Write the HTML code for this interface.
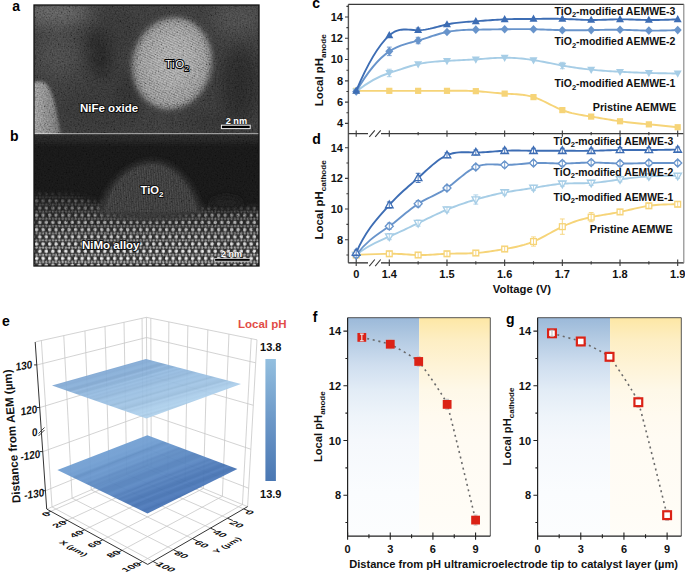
<!DOCTYPE html>
<html><head><meta charset="utf-8"><style>
html,body{margin:0;padding:0;background:#fff;width:685px;height:573px;overflow:hidden}
svg{display:block}
</style></head><body>
<svg width="685" height="573" viewBox="0 0 685 573">
<rect x="348.4" y="4.4" width="335.4" height="258.40000000000003" fill="none" stroke="#888" stroke-width="0.8"/>
<path d="M356.20,90.84 C367.23,90.84 378.27,90.84 389.30,90.84 L391.70,90.84 L394.11,90.84 L396.51,90.84 L398.91,90.84 L401.32,90.84 L403.72,90.84 L406.12,90.83 L408.53,90.83 L410.93,90.83 L413.33,90.84 L415.74,90.84 L418.14,90.84 L420.54,90.85 L422.95,90.85 L425.35,90.86 L427.75,90.86 L430.16,90.87 L432.56,90.87 L434.96,90.87 L437.37,90.87 L439.77,90.87 L442.17,90.87 L444.58,90.86 L446.98,90.84 L449.38,90.82 L451.79,90.80 L454.19,90.79 L456.59,90.77 L459.00,90.76 L461.40,90.77 L463.80,90.78 L466.21,90.81 L468.61,90.87 L471.01,90.94 L473.42,91.04 L475.82,91.16 L478.22,91.32 L480.63,91.50 L483.03,91.70 L485.43,91.91 L487.84,92.14 L490.24,92.37 L492.64,92.61 L495.05,92.84 L497.45,93.06 L499.85,93.26 L502.26,93.45 L504.66,93.61 L507.06,93.74 L509.47,93.86 L511.87,93.98 L514.27,94.10 L516.68,94.25 L519.08,94.44 L521.48,94.68 L523.89,94.99 L526.29,95.37 L528.69,95.84 L531.10,96.42 L533.50,97.12 L535.90,97.94 L538.31,98.88 L540.71,99.91 L543.11,101.01 L545.52,102.17 L547.92,103.35 L550.32,104.56 L552.73,105.76 L555.13,106.93 L557.53,108.06 L559.94,109.12 L562.34,110.10 L564.74,110.98 L567.15,111.77 L569.55,112.47 L571.95,113.10 L574.36,113.66 L576.76,114.17 L579.16,114.63 L581.57,115.06 L583.97,115.45 L586.37,115.84 L588.78,116.21 L591.18,116.59 L593.58,116.98 L595.99,117.38 L598.39,117.78 L600.79,118.19 L603.20,118.60 L605.60,119.01 L608.00,119.41 L610.41,119.81 L612.81,120.19 L615.21,120.57 L617.62,120.93 L620.02,121.27 L622.42,121.60 L624.83,121.90 L627.23,122.19 L629.63,122.46 L632.04,122.72 L634.44,122.97 L636.84,123.21 L639.25,123.45 L641.65,123.68 L644.05,123.91 L646.46,124.13 L648.86,124.36 L651.26,124.59 L653.67,124.82 L656.07,125.05 L658.47,125.29 L660.88,125.53 L663.28,125.77 L665.68,126.01 L668.09,126.25 L670.49,126.50 L672.89,126.74 L675.30,126.99 L677.70,127.23" fill="none" stroke="#f6d478" stroke-width="1.9" stroke-linejoin="round"/>
<rect x="353.10" y="87.74" width="6.20" height="6.20" fill="#f6d478" />
<rect x="386.20" y="87.74" width="6.20" height="6.20" fill="#f6d478" />
<rect x="415.04" y="87.74" width="6.20" height="6.20" fill="#f6d478" />
<rect x="443.88" y="87.74" width="6.20" height="6.20" fill="#f6d478" />
<rect x="472.72" y="88.06" width="6.20" height="6.20" fill="#f6d478" />
<rect x="501.56" y="90.51" width="6.20" height="6.20" fill="#f6d478" />
<rect x="530.40" y="94.02" width="6.20" height="6.20" fill="#f6d478" />
<rect x="559.24" y="107.00" width="6.20" height="6.20" fill="#f6d478" />
<rect x="588.08" y="113.49" width="6.20" height="6.20" fill="#f6d478" />
<rect x="616.92" y="118.17" width="6.20" height="6.20" fill="#f6d478" />
<rect x="645.76" y="121.26" width="6.20" height="6.20" fill="#f6d478" />
<rect x="674.60" y="124.13" width="6.20" height="6.20" fill="#f6d478" />
<path d="M356.20,91.48 C367.23,82.72 378.27,76.36 389.30,72.97 L391.70,72.21 L394.11,71.44 L396.51,70.64 L398.91,69.84 L401.32,69.05 L403.72,68.26 L406.12,67.48 L408.53,66.73 L410.93,66.01 L413.33,65.34 L415.74,64.71 L418.14,64.14 L420.54,63.62 L422.95,63.17 L425.35,62.77 L427.75,62.43 L430.16,62.12 L432.56,61.86 L434.96,61.63 L437.37,61.43 L439.77,61.26 L442.17,61.10 L444.58,60.96 L446.98,60.84 L449.38,60.72 L451.79,60.60 L454.19,60.49 L456.59,60.37 L459.00,60.26 L461.40,60.15 L463.80,60.03 L466.21,59.91 L468.61,59.78 L471.01,59.65 L473.42,59.50 L475.82,59.35 L478.22,59.18 L480.63,59.01 L483.03,58.83 L485.43,58.66 L487.84,58.48 L490.24,58.32 L492.64,58.17 L495.05,58.04 L497.45,57.92 L499.85,57.84 L502.26,57.78 L504.66,57.75 L507.06,57.76 L509.47,57.81 L511.87,57.89 L514.27,58.01 L516.68,58.16 L519.08,58.34 L521.48,58.56 L523.89,58.81 L526.29,59.09 L528.69,59.39 L531.10,59.73 L533.50,60.09 L535.90,60.48 L538.31,60.89 L540.71,61.33 L543.11,61.78 L545.52,62.24 L547.92,62.71 L550.32,63.18 L552.73,63.66 L555.13,64.14 L557.53,64.61 L559.94,65.07 L562.34,65.52 L564.74,65.95 L567.15,66.37 L569.55,66.77 L571.95,67.16 L574.36,67.53 L576.76,67.88 L579.16,68.22 L581.57,68.54 L583.97,68.85 L586.37,69.14 L588.78,69.41 L591.18,69.67 L593.58,69.91 L595.99,70.14 L598.39,70.35 L600.79,70.55 L603.20,70.74 L605.60,70.92 L608.00,71.08 L610.41,71.24 L612.81,71.39 L615.21,71.53 L617.62,71.67 L620.02,71.80 L622.42,71.92 L624.83,72.04 L627.23,72.16 L629.63,72.27 L632.04,72.37 L634.44,72.47 L636.84,72.57 L639.25,72.66 L641.65,72.74 L644.05,72.82 L646.46,72.90 L648.86,72.97 L651.26,73.03 L653.67,73.09 L656.07,73.14 L658.47,73.19 L660.88,73.24 L663.28,73.28 L665.68,73.32 L668.09,73.36 L670.49,73.40 L672.89,73.43 L675.30,73.46 L677.70,73.50" fill="none" stroke="#a6cde6" stroke-width="1.9" stroke-linejoin="round"/>
<path d="M389.30,69.24V76.69M386.90,69.24h4.8M386.90,76.69h4.8" stroke="#a6cde6" stroke-width="0.9" fill="none"/>
<path d="M562.34,62.33V68.71M559.94,62.33h4.8M559.94,68.71h4.8" stroke="#a6cde6" stroke-width="0.9" fill="none"/>
<polygon points="356.20,95.80 360.20,88.60 352.20,88.60" fill="#a6cde6" />
<polygon points="389.30,77.29 393.30,70.09 385.30,70.09" fill="#a6cde6" />
<polygon points="418.14,68.46 422.14,61.26 414.14,61.26" fill="#a6cde6" />
<polygon points="446.98,65.16 450.98,57.96 442.98,57.96" fill="#a6cde6" />
<polygon points="475.82,63.67 479.82,56.47 471.82,56.47" fill="#a6cde6" />
<polygon points="504.66,62.07 508.66,54.87 500.66,54.87" fill="#a6cde6" />
<polygon points="533.50,64.41 537.50,57.21 529.50,57.21" fill="#a6cde6" />
<polygon points="562.34,69.84 566.34,62.64 558.34,62.64" fill="#a6cde6" />
<polygon points="591.18,73.99 595.18,66.79 587.18,66.79" fill="#a6cde6" />
<polygon points="620.02,76.12 624.02,68.92 616.02,68.92" fill="#a6cde6" />
<polygon points="648.86,77.29 652.86,70.09 644.86,70.09" fill="#a6cde6" />
<polygon points="677.70,77.82 681.70,70.62 673.70,70.62" fill="#a6cde6" />
<path d="M356.20,91.48 C367.23,72.49 378.27,58.72 389.30,51.37 L391.70,49.86 L394.11,48.53 L396.51,47.35 L398.91,46.32 L401.32,45.39 L403.72,44.57 L406.12,43.82 L408.53,43.12 L410.93,42.47 L413.33,41.83 L415.74,41.18 L418.14,40.51 L420.54,39.81 L422.95,39.07 L425.35,38.31 L427.75,37.53 L430.16,36.75 L432.56,35.97 L434.96,35.22 L437.37,34.48 L439.77,33.78 L442.17,33.13 L444.58,32.53 L446.98,32.00 L449.38,31.54 L451.79,31.15 L454.19,30.82 L456.59,30.55 L459.00,30.33 L461.40,30.15 L463.80,30.01 L466.21,29.90 L468.61,29.82 L471.01,29.75 L473.42,29.70 L475.82,29.66 L478.22,29.62 L480.63,29.58 L483.03,29.54 L485.43,29.50 L487.84,29.47 L490.24,29.43 L492.64,29.40 L495.05,29.36 L497.45,29.33 L499.85,29.30 L502.26,29.27 L504.66,29.24 L507.06,29.21 L509.47,29.18 L511.87,29.16 L514.27,29.13 L516.68,29.12 L519.08,29.11 L521.48,29.11 L523.89,29.11 L526.29,29.13 L528.69,29.15 L531.10,29.19 L533.50,29.24 L535.90,29.30 L538.31,29.37 L540.71,29.45 L543.11,29.53 L545.52,29.63 L547.92,29.72 L550.32,29.81 L552.73,29.90 L555.13,29.99 L557.53,30.07 L559.94,30.14 L562.34,30.19 L564.74,30.24 L567.15,30.27 L569.55,30.29 L571.95,30.30 L574.36,30.30 L576.76,30.29 L579.16,30.27 L581.57,30.25 L583.97,30.22 L586.37,30.18 L588.78,30.13 L591.18,30.09 L593.58,30.04 L595.99,29.99 L598.39,29.93 L600.79,29.88 L603.20,29.84 L605.60,29.80 L608.00,29.76 L610.41,29.74 L612.81,29.73 L615.21,29.73 L617.62,29.74 L620.02,29.77 L622.42,29.81 L624.83,29.87 L627.23,29.95 L629.63,30.03 L632.04,30.11 L634.44,30.20 L636.84,30.29 L639.25,30.38 L641.65,30.46 L644.05,30.52 L646.46,30.58 L648.86,30.62 L651.26,30.64 L653.67,30.65 L656.07,30.63 L658.47,30.61 L660.88,30.57 L663.28,30.52 L665.68,30.46 L668.09,30.40 L670.49,30.33 L672.89,30.25 L675.30,30.17 L677.70,30.09" fill="none" stroke="#6894cb" stroke-width="1.9" stroke-linejoin="round"/>
<path d="M389.30,47.11V55.62M386.90,47.11h4.8M386.90,55.62h4.8" stroke="#6894cb" stroke-width="0.9" fill="none"/>
<path d="M418.14,37.32V43.71M415.74,37.32h4.8M415.74,43.71h4.8" stroke="#6894cb" stroke-width="0.9" fill="none"/>
<polygon points="356.20,87.18 360.20,91.48 356.20,95.78 352.20,91.48" fill="#6894cb" />
<polygon points="389.30,47.07 393.30,51.37 389.30,55.67 385.30,51.37" fill="#6894cb" />
<polygon points="418.14,36.21 422.14,40.51 418.14,44.81 414.14,40.51" fill="#6894cb" />
<polygon points="446.98,27.70 450.98,32.00 446.98,36.30 442.98,32.00" fill="#6894cb" />
<polygon points="475.82,25.36 479.82,29.66 475.82,33.96 471.82,29.66" fill="#6894cb" />
<polygon points="504.66,24.94 508.66,29.24 504.66,33.54 500.66,29.24" fill="#6894cb" />
<polygon points="533.50,24.94 537.50,29.24 533.50,33.54 529.50,29.24" fill="#6894cb" />
<polygon points="562.34,25.89 566.34,30.19 562.34,34.49 558.34,30.19" fill="#6894cb" />
<polygon points="591.18,25.79 595.18,30.09 591.18,34.39 587.18,30.09" fill="#6894cb" />
<polygon points="620.02,25.47 624.02,29.77 620.02,34.07 616.02,29.77" fill="#6894cb" />
<polygon points="648.86,26.32 652.86,30.62 648.86,34.92 644.86,30.62" fill="#6894cb" />
<polygon points="677.70,25.79 681.70,30.09 677.70,34.39 673.70,30.09" fill="#6894cb" />
<path d="M356.20,90.84 C367.23,64.60 378.27,45.57 389.30,35.41 L391.70,33.44 L394.11,31.95 L396.51,30.86 L398.91,30.12 L401.32,29.68 L403.72,29.48 L406.12,29.47 L408.53,29.58 L410.93,29.77 L413.33,29.97 L415.74,30.13 L418.14,30.19 L420.54,30.12 L422.95,29.91 L425.35,29.58 L427.75,29.16 L430.16,28.66 L432.56,28.09 L434.96,27.49 L437.37,26.85 L439.77,26.22 L442.17,25.59 L444.58,25.00 L446.98,24.45 L449.38,23.96 L451.79,23.54 L454.19,23.17 L456.59,22.85 L459.00,22.57 L461.40,22.32 L463.80,22.11 L466.21,21.92 L468.61,21.74 L471.01,21.58 L473.42,21.42 L475.82,21.26 L478.22,21.09 L480.63,20.91 L483.03,20.74 L485.43,20.56 L487.84,20.38 L490.24,20.20 L492.64,20.03 L495.05,19.87 L497.45,19.72 L499.85,19.58 L502.26,19.45 L504.66,19.34 L507.06,19.25 L509.47,19.17 L511.87,19.12 L514.27,19.07 L516.68,19.03 L519.08,19.01 L521.48,18.98 L523.89,18.97 L526.29,18.96 L528.69,18.94 L531.10,18.93 L533.50,18.92 L535.90,18.89 L538.31,18.87 L540.71,18.85 L543.11,18.82 L545.52,18.80 L547.92,18.79 L550.32,18.78 L552.73,18.78 L555.13,18.79 L557.53,18.82 L559.94,18.86 L562.34,18.92 L564.74,18.99 L567.15,19.09 L569.55,19.19 L571.95,19.30 L574.36,19.42 L576.76,19.53 L579.16,19.64 L581.57,19.74 L583.97,19.83 L586.37,19.90 L588.78,19.95 L591.18,19.98 L593.58,19.98 L595.99,19.95 L598.39,19.90 L600.79,19.84 L603.20,19.77 L605.60,19.69 L608.00,19.61 L610.41,19.53 L612.81,19.46 L615.21,19.40 L617.62,19.36 L620.02,19.34 L622.42,19.34 L624.83,19.37 L627.23,19.41 L629.63,19.47 L632.04,19.53 L634.44,19.61 L636.84,19.68 L639.25,19.76 L641.65,19.83 L644.05,19.89 L646.46,19.94 L648.86,19.98 L651.26,20.00 L653.67,19.99 L656.07,19.97 L658.47,19.94 L660.88,19.89 L663.28,19.84 L665.68,19.77 L668.09,19.69 L670.49,19.61 L672.89,19.52 L675.30,19.43 L677.70,19.34" fill="none" stroke="#3d6db4" stroke-width="1.9" stroke-linejoin="round"/>
<path d="M418.14,28.07V32.32M415.74,28.07h4.8M415.74,32.32h4.8" stroke="#3d6db4" stroke-width="0.9" fill="none"/>
<polygon points="356.20,86.52 360.20,93.72 352.20,93.72" fill="#3d6db4" />
<polygon points="389.30,31.09 393.30,38.29 385.30,38.29" fill="#3d6db4" />
<polygon points="418.14,25.87 422.14,33.07 414.14,33.07" fill="#3d6db4" />
<polygon points="446.98,20.13 450.98,27.33 442.98,27.33" fill="#3d6db4" />
<polygon points="475.82,16.94 479.82,24.14 471.82,24.14" fill="#3d6db4" />
<polygon points="504.66,15.02 508.66,22.22 500.66,22.22" fill="#3d6db4" />
<polygon points="533.50,14.60 537.50,21.80 529.50,21.80" fill="#3d6db4" />
<polygon points="562.34,14.60 566.34,21.80 558.34,21.80" fill="#3d6db4" />
<polygon points="591.18,15.66 595.18,22.86 587.18,22.86" fill="#3d6db4" />
<polygon points="620.02,15.02 624.02,22.22 616.02,22.22" fill="#3d6db4" />
<polygon points="648.86,15.66 652.86,22.86 644.86,22.86" fill="#3d6db4" />
<polygon points="677.70,15.02 681.70,22.22 673.70,22.22" fill="#3d6db4" />
<path d="M356.20,255.01 C367.23,254.38 378.27,254.11 389.30,253.78 L391.70,253.74 L394.11,253.76 L396.51,253.83 L398.91,253.94 L401.32,254.07 L403.72,254.23 L406.12,254.39 L408.53,254.56 L410.93,254.71 L413.33,254.84 L415.74,254.95 L418.14,255.01 L420.54,255.03 L422.95,255.00 L425.35,254.94 L427.75,254.85 L430.16,254.73 L432.56,254.60 L434.96,254.45 L437.37,254.30 L439.77,254.16 L442.17,254.01 L444.58,253.89 L446.98,253.78 L449.38,253.70 L451.79,253.64 L454.19,253.60 L456.59,253.57 L459.00,253.54 L461.40,253.51 L463.80,253.48 L466.21,253.43 L468.61,253.37 L471.01,253.28 L473.42,253.17 L475.82,253.02 L478.22,252.83 L480.63,252.61 L483.03,252.35 L485.43,252.06 L487.84,251.75 L490.24,251.41 L492.64,251.05 L495.05,250.67 L497.45,250.28 L499.85,249.87 L502.26,249.45 L504.66,249.03 L507.06,248.60 L509.47,248.16 L511.87,247.71 L514.27,247.22 L516.68,246.71 L519.08,246.15 L521.48,245.54 L523.89,244.88 L526.29,244.15 L528.69,243.36 L531.10,242.48 L533.50,241.52 L535.90,240.47 L538.31,239.34 L540.71,238.14 L543.11,236.89 L545.52,235.60 L547.92,234.29 L550.32,232.97 L552.73,231.64 L555.13,230.34 L557.53,229.06 L559.94,227.83 L562.34,226.65 L564.74,225.54 L567.15,224.50 L569.55,223.52 L571.95,222.60 L574.36,221.75 L576.76,220.95 L579.16,220.20 L581.57,219.50 L583.97,218.85 L586.37,218.24 L588.78,217.67 L591.18,217.14 L593.58,216.65 L595.99,216.19 L598.39,215.75 L600.79,215.32 L603.20,214.92 L605.60,214.51 L608.00,214.11 L610.41,213.71 L612.81,213.29 L615.21,212.86 L617.62,212.41 L620.02,211.93 L622.42,211.42 L624.83,210.89 L627.23,210.34 L629.63,209.78 L632.04,209.21 L634.44,208.65 L636.84,208.11 L639.25,207.58 L641.65,207.07 L644.05,206.61 L646.46,206.18 L648.86,205.80 L651.26,205.48 L653.67,205.20 L656.07,204.98 L658.47,204.79 L660.88,204.64 L663.28,204.53 L665.68,204.44 L668.09,204.38 L670.49,204.34 L672.89,204.31 L675.30,204.28 L677.70,204.27" fill="none" stroke="#f6d478" stroke-width="1.9" stroke-linejoin="round"/>
<rect x="353.30" y="252.11" width="5.80" height="5.80" fill="white" stroke="#f6d478" stroke-width="1.3"/>
<rect x="386.40" y="250.88" width="5.80" height="5.80" fill="white" stroke="#f6d478" stroke-width="1.3"/>
<rect x="415.24" y="252.11" width="5.80" height="5.80" fill="white" stroke="#f6d478" stroke-width="1.3"/>
<rect x="444.08" y="250.88" width="5.80" height="5.80" fill="white" stroke="#f6d478" stroke-width="1.3"/>
<rect x="472.92" y="250.12" width="5.80" height="5.80" fill="white" stroke="#f6d478" stroke-width="1.3"/>
<rect x="501.76" y="246.13" width="5.80" height="5.80" fill="white" stroke="#f6d478" stroke-width="1.3"/>
<rect x="530.60" y="238.62" width="5.80" height="5.80" fill="white" stroke="#f6d478" stroke-width="1.3"/>
<rect x="559.44" y="223.75" width="5.80" height="5.80" fill="white" stroke="#f6d478" stroke-width="1.3"/>
<rect x="588.28" y="214.24" width="5.80" height="5.80" fill="white" stroke="#f6d478" stroke-width="1.3"/>
<rect x="617.12" y="209.03" width="5.80" height="5.80" fill="white" stroke="#f6d478" stroke-width="1.3"/>
<rect x="645.96" y="202.90" width="5.80" height="5.80" fill="white" stroke="#f6d478" stroke-width="1.3"/>
<rect x="674.80" y="201.37" width="5.80" height="5.80" fill="white" stroke="#f6d478" stroke-width="1.3"/>
<path d="M356.20,252.56V257.46M353.80,252.56h4.8M353.80,257.46h4.8" stroke="#f6d478" stroke-width="0.9" fill="none"/>
<path d="M389.30,251.33V256.24M386.90,251.33h4.8M386.90,256.24h4.8" stroke="#f6d478" stroke-width="0.9" fill="none"/>
<path d="M418.14,252.56V257.46M415.74,252.56h4.8M415.74,257.46h4.8" stroke="#f6d478" stroke-width="0.9" fill="none"/>
<path d="M446.98,251.33V256.24M444.58,251.33h4.8M444.58,256.24h4.8" stroke="#f6d478" stroke-width="0.9" fill="none"/>
<path d="M475.82,250.56V255.47M473.42,250.56h4.8M473.42,255.47h4.8" stroke="#f6d478" stroke-width="0.9" fill="none"/>
<path d="M504.66,246.58V251.48M502.26,246.58h4.8M502.26,251.48h4.8" stroke="#f6d478" stroke-width="0.9" fill="none"/>
<path d="M533.50,236.92V246.12M531.10,236.92h4.8M531.10,246.12h4.8" stroke="#f6d478" stroke-width="0.9" fill="none"/>
<path d="M562.34,218.98V234.31M559.94,218.98h4.8M559.94,234.31h4.8" stroke="#f6d478" stroke-width="0.9" fill="none"/>
<path d="M591.18,212.55V221.74M588.78,212.55h4.8M588.78,221.74h4.8" stroke="#f6d478" stroke-width="0.9" fill="none"/>
<path d="M620.02,209.48V214.39M617.62,209.48h4.8M617.62,214.39h4.8" stroke="#f6d478" stroke-width="0.9" fill="none"/>
<path d="M648.86,203.35V208.25M646.46,203.35h4.8M646.46,208.25h4.8" stroke="#f6d478" stroke-width="0.9" fill="none"/>
<path d="M677.70,201.81V206.72M675.30,201.81h4.8M675.30,206.72h4.8" stroke="#f6d478" stroke-width="0.9" fill="none"/>
<path d="M356.20,255.01 C367.23,245.51 378.27,241.52 389.30,236.61 L391.70,235.54 L394.11,234.45 L396.51,233.36 L398.91,232.25 L401.32,231.14 L403.72,230.02 L406.12,228.89 L408.53,227.75 L410.93,226.60 L413.33,225.45 L415.74,224.29 L418.14,223.12 L420.54,221.95 L422.95,220.78 L425.35,219.61 L427.75,218.45 L430.16,217.29 L432.56,216.14 L434.96,215.00 L437.37,213.88 L439.77,212.78 L442.17,211.71 L444.58,210.66 L446.98,209.63 L449.38,208.64 L451.79,207.68 L454.19,206.75 L456.59,205.85 L459.00,204.97 L461.40,204.13 L463.80,203.30 L466.21,202.50 L468.61,201.72 L471.01,200.97 L473.42,200.23 L475.82,199.52 L478.22,198.82 L480.63,198.14 L483.03,197.47 L485.43,196.83 L487.84,196.21 L490.24,195.61 L492.64,195.03 L495.05,194.47 L497.45,193.93 L499.85,193.42 L502.26,192.93 L504.66,192.46 L507.06,192.02 L509.47,191.60 L511.87,191.20 L514.27,190.81 L516.68,190.43 L519.08,190.07 L521.48,189.70 L523.89,189.34 L526.29,188.98 L528.69,188.62 L531.10,188.25 L533.50,187.86 L535.90,187.47 L538.31,187.07 L540.71,186.66 L543.11,186.26 L545.52,185.86 L547.92,185.47 L550.32,185.11 L552.73,184.76 L555.13,184.45 L557.53,184.17 L559.94,183.92 L562.34,183.73 L564.74,183.57 L567.15,183.46 L569.55,183.39 L571.95,183.34 L574.36,183.31 L576.76,183.29 L579.16,183.27 L581.57,183.25 L583.97,183.21 L586.37,183.16 L588.78,183.08 L591.18,182.96 L593.58,182.80 L595.99,182.60 L598.39,182.37 L600.79,182.10 L603.20,181.81 L605.60,181.50 L608.00,181.17 L610.41,180.83 L612.81,180.48 L615.21,180.13 L617.62,179.78 L620.02,179.43 L622.42,179.10 L624.83,178.77 L627.23,178.45 L629.63,178.15 L632.04,177.86 L634.44,177.59 L636.84,177.34 L639.25,177.10 L641.65,176.89 L644.05,176.69 L646.46,176.52 L648.86,176.37 L651.26,176.24 L653.67,176.14 L656.07,176.06 L658.47,175.99 L660.88,175.95 L663.28,175.91 L665.68,175.89 L668.09,175.88 L670.49,175.88 L672.89,175.89 L675.30,175.90 L677.70,175.91" fill="none" stroke="#a6cde6" stroke-width="1.9" stroke-linejoin="round"/>
<polygon points="356.20,259.09 360.00,252.29 352.40,252.29" fill="white" stroke="#a6cde6" stroke-width="1.3"/>
<polygon points="389.30,240.69 393.10,233.89 385.50,233.89" fill="white" stroke="#a6cde6" stroke-width="1.3"/>
<polygon points="418.14,227.20 421.94,220.40 414.34,220.40" fill="white" stroke="#a6cde6" stroke-width="1.3"/>
<polygon points="446.98,213.71 450.78,206.91 443.18,206.91" fill="white" stroke="#a6cde6" stroke-width="1.3"/>
<polygon points="475.82,203.60 479.62,196.80 472.02,196.80" fill="white" stroke="#a6cde6" stroke-width="1.3"/>
<polygon points="504.66,196.54 508.46,189.74 500.86,189.74" fill="white" stroke="#a6cde6" stroke-width="1.3"/>
<polygon points="533.50,191.94 537.30,185.14 529.70,185.14" fill="white" stroke="#a6cde6" stroke-width="1.3"/>
<polygon points="562.34,187.81 566.14,181.01 558.54,181.01" fill="white" stroke="#a6cde6" stroke-width="1.3"/>
<polygon points="591.18,187.04 594.98,180.24 587.38,180.24" fill="white" stroke="#a6cde6" stroke-width="1.3"/>
<polygon points="620.02,183.51 623.82,176.71 616.22,176.71" fill="white" stroke="#a6cde6" stroke-width="1.3"/>
<polygon points="648.86,180.45 652.66,173.65 645.06,173.65" fill="white" stroke="#a6cde6" stroke-width="1.3"/>
<polygon points="677.70,179.99 681.50,173.19 673.90,173.19" fill="white" stroke="#a6cde6" stroke-width="1.3"/>
<path d="M356.20,252.56V257.46M353.80,252.56h4.8M353.80,257.46h4.8" stroke="#a6cde6" stroke-width="0.9" fill="none"/>
<path d="M389.30,233.55V239.68M386.90,233.55h4.8M386.90,239.68h4.8" stroke="#a6cde6" stroke-width="0.9" fill="none"/>
<path d="M418.14,220.06V226.19M415.74,220.06h4.8M415.74,226.19h4.8" stroke="#a6cde6" stroke-width="0.9" fill="none"/>
<path d="M446.98,207.18V212.09M444.58,207.18h4.8M444.58,212.09h4.8" stroke="#a6cde6" stroke-width="0.9" fill="none"/>
<path d="M475.82,194.92V204.11M473.42,194.92h4.8M473.42,204.11h4.8" stroke="#a6cde6" stroke-width="0.9" fill="none"/>
<path d="M504.66,190.01V194.92M502.26,190.01h4.8M502.26,194.92h4.8" stroke="#a6cde6" stroke-width="0.9" fill="none"/>
<path d="M533.50,185.41V190.32M531.10,185.41h4.8M531.10,190.32h4.8" stroke="#a6cde6" stroke-width="0.9" fill="none"/>
<path d="M562.34,181.27V186.18M559.94,181.27h4.8M559.94,186.18h4.8" stroke="#a6cde6" stroke-width="0.9" fill="none"/>
<path d="M591.18,180.51V185.41M588.78,180.51h4.8M588.78,185.41h4.8" stroke="#a6cde6" stroke-width="0.9" fill="none"/>
<path d="M620.02,176.98V181.89M617.62,176.98h4.8M617.62,181.89h4.8" stroke="#a6cde6" stroke-width="0.9" fill="none"/>
<path d="M648.86,173.91V178.82M646.46,173.91h4.8M646.46,178.82h4.8" stroke="#a6cde6" stroke-width="0.9" fill="none"/>
<path d="M677.70,173.45V178.36M675.30,173.45h4.8M675.30,178.36h4.8" stroke="#a6cde6" stroke-width="0.9" fill="none"/>
<path d="M356.20,255.01 C367.23,240.12 378.27,233.88 389.30,226.19 L391.70,224.46 L394.11,222.64 L396.51,220.74 L398.91,218.79 L401.32,216.81 L403.72,214.82 L406.12,212.84 L408.53,210.89 L410.93,208.99 L413.33,207.16 L415.74,205.43 L418.14,203.81 L420.54,202.32 L422.95,200.94 L425.35,199.65 L427.75,198.42 L430.16,197.23 L432.56,196.06 L434.96,194.88 L437.37,193.66 L439.77,192.40 L442.17,191.05 L444.58,189.60 L446.98,188.02 L449.38,186.30 L451.79,184.46 L454.19,182.54 L456.59,180.57 L459.00,178.58 L461.40,176.61 L463.80,174.69 L466.21,172.85 L468.61,171.13 L471.01,169.56 L473.42,168.18 L475.82,167.02 L478.22,166.09 L480.63,165.40 L483.03,164.90 L485.43,164.57 L487.84,164.39 L490.24,164.33 L492.64,164.35 L495.05,164.44 L497.45,164.56 L499.85,164.69 L502.26,164.80 L504.66,164.87 L507.06,164.87 L509.47,164.81 L511.87,164.69 L514.27,164.54 L516.68,164.35 L519.08,164.14 L521.48,163.93 L523.89,163.71 L526.29,163.50 L528.69,163.31 L531.10,163.15 L533.50,163.03 L535.90,162.96 L538.31,162.93 L540.71,162.94 L543.11,162.98 L545.52,163.05 L547.92,163.12 L550.32,163.21 L552.73,163.29 L555.13,163.37 L557.53,163.43 L559.94,163.48 L562.34,163.49 L564.74,163.47 L567.15,163.42 L569.55,163.35 L571.95,163.26 L574.36,163.15 L576.76,163.04 L579.16,162.93 L581.57,162.82 L583.97,162.73 L586.37,162.65 L588.78,162.60 L591.18,162.57 L593.58,162.58 L595.99,162.61 L598.39,162.67 L600.79,162.75 L603.20,162.85 L605.60,162.95 L608.00,163.06 L610.41,163.17 L612.81,163.27 L615.21,163.36 L617.62,163.44 L620.02,163.49 L622.42,163.52 L624.83,163.53 L627.23,163.52 L629.63,163.49 L632.04,163.44 L634.44,163.39 L636.84,163.33 L639.25,163.27 L641.65,163.20 L644.05,163.14 L646.46,163.08 L648.86,163.03 L651.26,162.99 L653.67,162.96 L656.07,162.94 L658.47,162.93 L660.88,162.93 L663.28,162.93 L665.68,162.94 L668.09,162.95 L670.49,162.97 L672.89,162.99 L675.30,163.01 L677.70,163.03" fill="none" stroke="#6894cb" stroke-width="1.9" stroke-linejoin="round"/>
<polygon points="356.20,251.01 360.20,255.01 356.20,259.01 352.20,255.01" fill="white" stroke="#6894cb" stroke-width="1.3"/>
<polygon points="389.30,222.19 393.30,226.19 389.30,230.19 385.30,226.19" fill="white" stroke="#6894cb" stroke-width="1.3"/>
<polygon points="418.14,199.81 422.14,203.81 418.14,207.81 414.14,203.81" fill="white" stroke="#6894cb" stroke-width="1.3"/>
<polygon points="446.98,184.02 450.98,188.02 446.98,192.02 442.98,188.02" fill="white" stroke="#6894cb" stroke-width="1.3"/>
<polygon points="475.82,163.02 479.82,167.02 475.82,171.02 471.82,167.02" fill="white" stroke="#6894cb" stroke-width="1.3"/>
<polygon points="504.66,160.87 508.66,164.87 504.66,168.87 500.66,164.87" fill="white" stroke="#6894cb" stroke-width="1.3"/>
<polygon points="533.50,159.03 537.50,163.03 533.50,167.03 529.50,163.03" fill="white" stroke="#6894cb" stroke-width="1.3"/>
<polygon points="562.34,159.49 566.34,163.49 562.34,167.49 558.34,163.49" fill="white" stroke="#6894cb" stroke-width="1.3"/>
<polygon points="591.18,158.57 595.18,162.57 591.18,166.57 587.18,162.57" fill="white" stroke="#6894cb" stroke-width="1.3"/>
<polygon points="620.02,159.49 624.02,163.49 620.02,167.49 616.02,163.49" fill="white" stroke="#6894cb" stroke-width="1.3"/>
<polygon points="648.86,159.03 652.86,163.03 648.86,167.03 644.86,163.03" fill="white" stroke="#6894cb" stroke-width="1.3"/>
<polygon points="677.70,159.03 681.70,163.03 677.70,167.03 673.70,163.03" fill="white" stroke="#6894cb" stroke-width="1.3"/>
<path d="M356.20,252.56V257.46M353.80,252.56h4.8M353.80,257.46h4.8" stroke="#6894cb" stroke-width="0.9" fill="none"/>
<path d="M389.30,223.12V229.26M386.90,223.12h4.8M386.90,229.26h4.8" stroke="#6894cb" stroke-width="0.9" fill="none"/>
<path d="M418.14,200.74V206.87M415.74,200.74h4.8M415.74,206.87h4.8" stroke="#6894cb" stroke-width="0.9" fill="none"/>
<path d="M446.98,185.57V190.47M444.58,185.57h4.8M444.58,190.47h4.8" stroke="#6894cb" stroke-width="0.9" fill="none"/>
<path d="M475.82,164.56V169.47M473.42,164.56h4.8M473.42,169.47h4.8" stroke="#6894cb" stroke-width="0.9" fill="none"/>
<path d="M504.66,162.42V167.32M502.26,162.42h4.8M502.26,167.32h4.8" stroke="#6894cb" stroke-width="0.9" fill="none"/>
<path d="M533.50,160.58V165.48M531.10,160.58h4.8M531.10,165.48h4.8" stroke="#6894cb" stroke-width="0.9" fill="none"/>
<path d="M562.34,161.04V165.94M559.94,161.04h4.8M559.94,165.94h4.8" stroke="#6894cb" stroke-width="0.9" fill="none"/>
<path d="M591.18,160.12V165.02M588.78,160.12h4.8M588.78,165.02h4.8" stroke="#6894cb" stroke-width="0.9" fill="none"/>
<path d="M620.02,161.04V165.94M617.62,161.04h4.8M617.62,165.94h4.8" stroke="#6894cb" stroke-width="0.9" fill="none"/>
<path d="M648.86,160.58V165.48M646.46,160.58h4.8M646.46,165.48h4.8" stroke="#6894cb" stroke-width="0.9" fill="none"/>
<path d="M677.70,160.58V165.48M675.30,160.58h4.8M675.30,165.48h4.8" stroke="#6894cb" stroke-width="0.9" fill="none"/>
<path d="M356.20,252.56 C367.23,228.00 378.27,217.71 389.30,205.03 L391.70,202.35 L394.11,199.79 L396.51,197.35 L398.91,195.01 L401.32,192.76 L403.72,190.57 L406.12,188.43 L408.53,186.32 L410.93,184.23 L413.33,182.14 L415.74,180.04 L418.14,177.90 L420.54,175.72 L422.95,173.51 L425.35,171.30 L427.75,169.11 L430.16,166.97 L432.56,164.90 L434.96,162.91 L437.37,161.05 L439.77,159.32 L442.17,157.76 L444.58,156.38 L446.98,155.21 L449.38,154.27 L451.79,153.54 L454.19,152.99 L456.59,152.61 L459.00,152.36 L461.40,152.23 L463.80,152.18 L466.21,152.20 L468.61,152.27 L471.01,152.34 L473.42,152.41 L475.82,152.45 L478.22,152.44 L480.63,152.38 L483.03,152.28 L485.43,152.14 L487.84,151.98 L490.24,151.81 L492.64,151.62 L495.05,151.42 L497.45,151.23 L499.85,151.06 L502.26,150.90 L504.66,150.77 L507.06,150.67 L509.47,150.60 L511.87,150.55 L514.27,150.53 L516.68,150.53 L519.08,150.55 L521.48,150.58 L523.89,150.61 L526.29,150.65 L528.69,150.69 L531.10,150.73 L533.50,150.77 L535.90,150.79 L538.31,150.80 L540.71,150.81 L543.11,150.81 L545.52,150.81 L547.92,150.80 L550.32,150.80 L552.73,150.79 L555.13,150.78 L557.53,150.77 L559.94,150.77 L562.34,150.77 L564.74,150.77 L567.15,150.78 L569.55,150.79 L571.95,150.81 L574.36,150.82 L576.76,150.83 L579.16,150.84 L581.57,150.84 L583.97,150.83 L586.37,150.82 L588.78,150.80 L591.18,150.77 L593.58,150.72 L595.99,150.66 L598.39,150.60 L600.79,150.53 L603.20,150.45 L605.60,150.38 L608.00,150.30 L610.41,150.23 L612.81,150.16 L615.21,150.10 L617.62,150.04 L620.02,150.00 L622.42,149.97 L624.83,149.95 L627.23,149.94 L629.63,149.94 L632.04,149.94 L634.44,149.95 L636.84,149.97 L639.25,149.98 L641.65,149.99 L644.05,150.00 L646.46,150.00 L648.86,150.00 L651.26,149.99 L653.67,149.97 L656.07,149.95 L658.47,149.92 L660.88,149.88 L663.28,149.84 L665.68,149.80 L668.09,149.75 L670.49,149.70 L672.89,149.65 L675.30,149.59 L677.70,149.54" fill="none" stroke="#3d6db4" stroke-width="1.9" stroke-linejoin="round"/>
<polygon points="356.20,248.48 360.00,255.28 352.40,255.28" fill="white" stroke="#3d6db4" stroke-width="1.3"/>
<polygon points="389.30,200.95 393.10,207.75 385.50,207.75" fill="white" stroke="#3d6db4" stroke-width="1.3"/>
<polygon points="418.14,173.82 421.94,180.62 414.34,180.62" fill="white" stroke="#3d6db4" stroke-width="1.3"/>
<polygon points="446.98,151.13 450.78,157.93 443.18,157.93" fill="white" stroke="#3d6db4" stroke-width="1.3"/>
<polygon points="475.82,148.37 479.62,155.17 472.02,155.17" fill="white" stroke="#3d6db4" stroke-width="1.3"/>
<polygon points="504.66,146.69 508.46,153.49 500.86,153.49" fill="white" stroke="#3d6db4" stroke-width="1.3"/>
<polygon points="533.50,146.69 537.30,153.49 529.70,153.49" fill="white" stroke="#3d6db4" stroke-width="1.3"/>
<polygon points="562.34,146.69 566.14,153.49 558.54,153.49" fill="white" stroke="#3d6db4" stroke-width="1.3"/>
<polygon points="591.18,146.69 594.98,153.49 587.38,153.49" fill="white" stroke="#3d6db4" stroke-width="1.3"/>
<polygon points="620.02,145.92 623.82,152.72 616.22,152.72" fill="white" stroke="#3d6db4" stroke-width="1.3"/>
<polygon points="648.86,145.92 652.66,152.72 645.06,152.72" fill="white" stroke="#3d6db4" stroke-width="1.3"/>
<polygon points="677.70,145.46 681.50,152.26 673.90,152.26" fill="white" stroke="#3d6db4" stroke-width="1.3"/>
<path d="M356.20,250.10V255.01M353.80,250.10h4.8M353.80,255.01h4.8" stroke="#3d6db4" stroke-width="0.9" fill="none"/>
<path d="M389.30,201.97V208.10M386.90,201.97h4.8M386.90,208.10h4.8" stroke="#3d6db4" stroke-width="0.9" fill="none"/>
<path d="M418.14,173.30V182.50M415.74,173.30h4.8M415.74,182.50h4.8" stroke="#3d6db4" stroke-width="0.9" fill="none"/>
<path d="M446.98,152.76V157.66M444.58,152.76h4.8M444.58,157.66h4.8" stroke="#3d6db4" stroke-width="0.9" fill="none"/>
<path d="M475.82,150.00V154.91M473.42,150.00h4.8M473.42,154.91h4.8" stroke="#3d6db4" stroke-width="0.9" fill="none"/>
<path d="M504.66,148.31V153.22M502.26,148.31h4.8M502.26,153.22h4.8" stroke="#3d6db4" stroke-width="0.9" fill="none"/>
<path d="M533.50,148.31V153.22M531.10,148.31h4.8M531.10,153.22h4.8" stroke="#3d6db4" stroke-width="0.9" fill="none"/>
<path d="M562.34,148.31V153.22M559.94,148.31h4.8M559.94,153.22h4.8" stroke="#3d6db4" stroke-width="0.9" fill="none"/>
<path d="M591.18,148.31V153.22M588.78,148.31h4.8M588.78,153.22h4.8" stroke="#3d6db4" stroke-width="0.9" fill="none"/>
<path d="M620.02,147.55V152.45M617.62,147.55h4.8M617.62,152.45h4.8" stroke="#3d6db4" stroke-width="0.9" fill="none"/>
<path d="M648.86,147.55V152.45M646.46,147.55h4.8M646.46,152.45h4.8" stroke="#3d6db4" stroke-width="0.9" fill="none"/>
<path d="M677.70,147.09V151.99M675.30,147.09h4.8M675.30,151.99h4.8" stroke="#3d6db4" stroke-width="0.9" fill="none"/>
<path d="M348.4,4.4H683.8" stroke="#3a3a3a" stroke-width="1.1"/>
<path d="M348.4,4.4V262.8" stroke="#555" stroke-width="1.4"/>
<path d="M348.4,133.6H683.8" stroke="#3a3a3a" stroke-width="1.2"/>
<path d="M348.4,262.8H683.8" stroke="#3a3a3a" stroke-width="1.2"/>
<path d="M683.8,4.4V262.8" stroke="#999" stroke-width="0.9"/>
<path d="M345.00,123.40H348.4 M346.40,112.76H348.4 M345.00,102.12H348.4 M346.40,91.48H348.4 M345.00,80.84H348.4 M346.40,70.20H348.4 M345.00,59.56H348.4 M346.40,48.92H348.4 M345.00,38.28H348.4 M346.40,27.64H348.4 M345.00,17.00H348.4 M346.40,6.36H348.4 M346.40,255.01H348.4 M345.00,239.68H348.4 M346.40,224.35H348.4 M345.00,209.02H348.4 M346.40,193.69H348.4 M345.00,178.36H348.4 M346.40,163.03H348.4 M345.00,147.70H348.4 M356.20,130.40V136.80 M356.20,259.60V266.00 M389.30,130.40V136.80 M389.30,259.60V266.00 M418.14,132.00V135.20 M418.14,261.20V264.40 M446.98,130.40V136.80 M446.98,259.60V266.00 M475.82,132.00V135.20 M475.82,261.20V264.40 M504.66,130.40V136.80 M504.66,259.60V266.00 M533.50,132.00V135.20 M533.50,261.20V264.40 M562.34,130.40V136.80 M562.34,259.60V266.00 M591.18,132.00V135.20 M591.18,261.20V264.40 M620.02,130.40V136.80 M620.02,259.60V266.00 M648.86,132.00V135.20 M648.86,261.20V264.40 M677.70,130.40V136.80 M677.70,259.60V266.00" stroke="#3a3a3a" stroke-width="1.1" fill="none"/>
<rect x="368" y="131.6" width="13" height="4" fill="white"/>
<path d="M369.3,136.90L374.8,130.30M375.2,136.90L380.7,130.30" stroke="#3a3a3a" stroke-width="1.1" fill="none"/>
<rect x="368" y="260.8" width="13" height="4" fill="white"/>
<path d="M369.3,266.10L374.8,259.50M375.2,266.10L380.7,259.50" stroke="#3a3a3a" stroke-width="1.1" fill="none"/>
<text x="343" y="127.30" font-size="11" text-anchor="end" font-family="Liberation Sans, sans-serif" font-weight="bold" fill="#111">4</text>
<text x="343" y="106.02" font-size="11" text-anchor="end" font-family="Liberation Sans, sans-serif" font-weight="bold" fill="#111">6</text>
<text x="343" y="84.74" font-size="11" text-anchor="end" font-family="Liberation Sans, sans-serif" font-weight="bold" fill="#111">8</text>
<text x="343" y="63.46" font-size="11" text-anchor="end" font-family="Liberation Sans, sans-serif" font-weight="bold" fill="#111">10</text>
<text x="343" y="42.18" font-size="11" text-anchor="end" font-family="Liberation Sans, sans-serif" font-weight="bold" fill="#111">12</text>
<text x="343" y="20.90" font-size="11" text-anchor="end" font-family="Liberation Sans, sans-serif" font-weight="bold" fill="#111">14</text>
<text x="343" y="243.58" font-size="11" text-anchor="end" font-family="Liberation Sans, sans-serif" font-weight="bold" fill="#111">8</text>
<text x="343" y="212.92" font-size="11" text-anchor="end" font-family="Liberation Sans, sans-serif" font-weight="bold" fill="#111">10</text>
<text x="343" y="182.26" font-size="11" text-anchor="end" font-family="Liberation Sans, sans-serif" font-weight="bold" fill="#111">12</text>
<text x="343" y="151.60" font-size="11" text-anchor="end" font-family="Liberation Sans, sans-serif" font-weight="bold" fill="#111">14</text>
<text x="356.20" y="277.5" font-size="11" text-anchor="middle" font-family="Liberation Sans, sans-serif" font-weight="bold" fill="#111">0</text>
<text x="389.30" y="277.5" font-size="11" text-anchor="middle" font-family="Liberation Sans, sans-serif" font-weight="bold" fill="#111">1.4</text>
<text x="446.98" y="277.5" font-size="11" text-anchor="middle" font-family="Liberation Sans, sans-serif" font-weight="bold" fill="#111">1.5</text>
<text x="504.66" y="277.5" font-size="11" text-anchor="middle" font-family="Liberation Sans, sans-serif" font-weight="bold" fill="#111">1.6</text>
<text x="562.34" y="277.5" font-size="11" text-anchor="middle" font-family="Liberation Sans, sans-serif" font-weight="bold" fill="#111">1.7</text>
<text x="620.02" y="277.5" font-size="11" text-anchor="middle" font-family="Liberation Sans, sans-serif" font-weight="bold" fill="#111">1.8</text>
<text x="677.70" y="277.5" font-size="11" text-anchor="middle" font-family="Liberation Sans, sans-serif" font-weight="bold" fill="#111">1.9</text>
<text x="521.9" y="292.8" font-size="11.3" text-anchor="middle" font-family="Liberation Sans, sans-serif" font-weight="bold" fill="#111">Voltage (V)</text>
<text transform="translate(322.6,70.2) rotate(-90)" font-size="11.4" text-anchor="middle" font-family="Liberation Sans, sans-serif" font-weight="bold" fill="#111">Local pH<tspan font-size="8.1" dy="3">anode</tspan></text>
<text transform="translate(322.6,199.8) rotate(-90)" font-size="11.4" text-anchor="middle" font-family="Liberation Sans, sans-serif" font-weight="bold" fill="#111">Local pH<tspan font-size="8.1" dy="3">cathode</tspan></text>
<text x="554.6" y="14.6" font-size="10.5" font-family="Liberation Sans, sans-serif" font-weight="bold" fill="#111">TiO<tspan font-size="7.5" dy="2.5">2</tspan><tspan dy="-2.5">-modified AEMWE-3</tspan></text>
<text x="554.6" y="45" font-size="10.5" font-family="Liberation Sans, sans-serif" font-weight="bold" fill="#111">TiO<tspan font-size="7.5" dy="2.5">2</tspan><tspan dy="-2.5">-modified AEMWE-2</tspan></text>
<text x="554.6" y="87.4" font-size="10.5" font-family="Liberation Sans, sans-serif" font-weight="bold" fill="#111">TiO<tspan font-size="7.5" dy="2.5">2</tspan><tspan dy="-2.5">-modified AEMWE-1</tspan></text>
<text x="592.7" y="110.8" font-size="10.8" font-family="Liberation Sans, sans-serif" font-weight="bold" fill="#111">Pristine AEMWE</text>
<text x="553.6" y="144.6" font-size="10.4" font-family="Liberation Sans, sans-serif" font-weight="bold" fill="#111">TiO<tspan font-size="7.5" dy="2.5">2</tspan><tspan dy="-2.5">-modified AEMWE-3</tspan></text>
<text x="553.6" y="175.7" font-size="10.4" font-family="Liberation Sans, sans-serif" font-weight="bold" fill="#111">TiO<tspan font-size="7.5" dy="2.5">2</tspan><tspan dy="-2.5">-modified AEMWE-2</tspan></text>
<text x="553.6" y="200.9" font-size="10.4" font-family="Liberation Sans, sans-serif" font-weight="bold" fill="#111">TiO<tspan font-size="7.5" dy="2.5">2</tspan><tspan dy="-2.5">-modified AEMWE-1</tspan></text>
<text x="589.8" y="233.2" font-size="10.7" font-family="Liberation Sans, sans-serif" font-weight="bold" fill="#111">Pristine AEMWE</text>
<text x="312.3" y="7.8" font-family="Liberation Sans, sans-serif" font-weight="bold" fill="#000" font-size="14">c</text>
<text x="312.3" y="143.5" font-family="Liberation Sans, sans-serif" font-weight="bold" fill="#000" font-size="14">d</text>
<text x="12.3" y="10.7" font-family="Liberation Sans, sans-serif" font-weight="bold" fill="#000" font-size="14">a</text>
<text x="10.1" y="140.8" font-family="Liberation Sans, sans-serif" font-weight="bold" fill="#000" font-size="14">b</text>
<text x="2" y="326.4" font-family="Liberation Sans, sans-serif" font-weight="bold" fill="#000" font-size="14">e</text>
<text x="312.8" y="321.8" font-family="Liberation Sans, sans-serif" font-weight="bold" fill="#000" font-size="14">f</text>
<text x="505.9" y="323.5" font-family="Liberation Sans, sans-serif" font-weight="bold" fill="#000" font-size="14">g</text>
<defs>
<clipPath id="clipA"><rect x="34" y="5" width="225" height="128.5"/></clipPath>
<clipPath id="clipB"><rect x="34" y="134" width="225" height="132"/></clipPath>
<filter id="blur5" x="-20%" y="-20%" width="140%" height="140%"><feGaussianBlur stdDeviation="5"/></filter>
<filter id="blur3" x="-20%" y="-20%" width="140%" height="140%"><feGaussianBlur stdDeviation="3"/></filter>
<filter id="blur2" x="-20%" y="-20%" width="140%" height="140%"><feGaussianBlur stdDeviation="1.6"/></filter>
<filter id="blur8" x="-30%" y="-30%" width="160%" height="160%"><feGaussianBlur stdDeviation="8"/></filter>
<filter id="noise" x="0" y="0" width="100%" height="100%">
<feTurbulence type="fractalNoise" baseFrequency="0.65" numOctaves="2" seed="3" result="t"/>
<feColorMatrix in="t" type="matrix" values="1.6 0 0 0 -0.3  1.6 0 0 0 -0.3  1.6 0 0 0 -0.3  0 0 0 0 1"/>
</filter>
<radialGradient id="dot"><stop offset="0" stop-color="#ffffff"/><stop offset="0.5" stop-color="#e0e0e0"/><stop offset="1" stop-color="#d0d0d0" stop-opacity="0"/></radialGradient>
<radialGradient id="dot2"><stop offset="0" stop-color="#a8a8a8"/><stop offset="0.5" stop-color="#8c8c8c"/><stop offset="1" stop-color="#888" stop-opacity="0"/></radialGradient>
<pattern id="latt" patternUnits="userSpaceOnUse" width="6.5" height="14.4" x="35" y="199">
<circle cx="1.6" cy="1.8" r="2.3" fill="url(#dot)"/><circle cx="4.85" cy="9.0" r="2.3" fill="url(#dot)"/>
<circle cx="1.6" cy="5.4" r="1.7" fill="url(#dot2)"/><circle cx="4.85" cy="5.4" r="1.7" fill="url(#dot2)"/>
<circle cx="1.6" cy="12.6" r="1.7" fill="url(#dot2)"/><circle cx="4.85" cy="12.6" r="1.7" fill="url(#dot2)"/>
</pattern>
<pattern id="fringeA" patternUnits="userSpaceOnUse" width="4" height="2.3" patternTransform="rotate(12)">
<rect width="4" height="0.9" fill="#000" opacity="0.22"/></pattern>
<pattern id="fringeB" patternUnits="userSpaceOnUse" width="2.4" height="4" patternTransform="rotate(-4)">
<rect width="1" height="4" fill="#666" opacity="0.25"/></pattern>
<linearGradient id="latFade" x1="0" y1="0" x2="0" y2="1">
<stop offset="0" stop-color="#1a1a1a" stop-opacity="1"/><stop offset="0.2" stop-color="#1a1a1a" stop-opacity="0.55"/><stop offset="0.45" stop-color="#1a1a1a" stop-opacity="0.15"/><stop offset="1" stop-color="#1a1a1a" stop-opacity="0"/></linearGradient>
</defs>
<g clip-path="url(#clipA)">
<rect x="34" y="5" width="225" height="129" fill="#373737"/>
<g filter="url(#blur8)">
<ellipse cx="55" cy="12" rx="35" ry="14" fill="#565656"/>
<ellipse cx="118" cy="30" rx="18" ry="22" fill="#333"/>
<ellipse cx="99" cy="54" rx="12" ry="26" fill="#242424" transform="rotate(-12 99 54)"/>
<ellipse cx="58" cy="55" rx="22" ry="22" fill="#424242"/>
<ellipse cx="100" cy="110" rx="42" ry="24" fill="#333"/>
<ellipse cx="240" cy="85" rx="20" ry="38" fill="#272727"/>
<ellipse cx="238" cy="18" rx="26" ry="16" fill="#444"/>
<ellipse cx="128" cy="92" rx="9" ry="22" fill="#2c2c2c"/>
<ellipse cx="210" cy="122" rx="30" ry="10" fill="#2e2e2e"/>
</g>
<g filter="url(#blur3)">
</g>
<linearGradient id="gBL" gradientUnits="userSpaceOnUse" x1="34" y1="0" x2="62" y2="0"><stop offset="0" stop-color="#8e8e8e"/><stop offset="1" stop-color="#626262"/></linearGradient>
<g filter="url(#blur2)"><path d="M28,82.5 L42,81.5 C48,83 52,92 55,104 C57,114 59,126 62,140 L28,140 Z" fill="url(#gBL)"/></g>
<g filter="url(#blur3)"><ellipse cx="172" cy="63.5" rx="38.5" ry="45" fill="#929292" transform="rotate(14 172 63.5)"/></g>
<g filter="url(#blur8)"><ellipse cx="173" cy="61" rx="25" ry="30" fill="#a8a8a8" transform="rotate(14 173 61)"/></g>
<ellipse cx="172" cy="63.5" rx="37" ry="43" fill="url(#fringeA)" transform="rotate(14 172 63.5)"/>
<rect x="34" y="5" width="225" height="129" filter="url(#noise)" style="mix-blend-mode:overlay" opacity="0.35"/>
</g>
<defs>
<mask id="lattMask" maskUnits="userSpaceOnUse" x="30" y="130" width="235" height="140">
<g filter="url(#blur3)">
<path d="M28,194 C60,192 85,196 105,206 C130,216 180,218 200,209 C215,205 235,212 265,206 L265,275 L28,275 Z" fill="#fff"/>
</g>
<rect x="30" y="185" width="235" height="90" fill="url(#latFade2)"/>
</mask>
<linearGradient id="latFade2" gradientUnits="userSpaceOnUse" x1="0" y1="190" x2="0" y2="266">
<stop offset="0" stop-color="#000" stop-opacity="0.9"/><stop offset="0.3" stop-color="#000" stop-opacity="0.55"/><stop offset="0.6" stop-color="#000" stop-opacity="0.2"/><stop offset="0.9" stop-color="#000" stop-opacity="0"/></linearGradient>
</defs>
<g clip-path="url(#clipB)">
<rect x="34" y="134" width="225" height="132" fill="#161616"/>
<g filter="url(#blur5)"><rect x="20" y="126" width="250" height="16" fill="#252525"/></g>
<g mask="url(#lattMask)"><rect x="34" y="185" width="225" height="81" fill="#2e2e2e"/><rect x="34" y="185" width="225" height="81" fill="url(#latt)"/></g>
<g filter="url(#blur3)">
<path d="M98,214 C106,182 128,162 152,161 C176,161 194,184 202,212 C180,222 120,222 98,214 Z" fill="#313131"/>
<ellipse cx="226" cy="203" rx="16" ry="7" fill="#1a1a1a"/>
</g>
<path d="M104,212 C110,182 130,165 152,164 C175,164 192,186 198,212 Z" fill="url(#fringeB)"/>
<rect x="34" y="134" width="225" height="132" filter="url(#noise)" style="mix-blend-mode:overlay" opacity="0.35"/>
<rect x="34" y="133" width="225" height="1.2" fill="#a0a0a0"/>
</g>
<rect x="34" y="5" width="225" height="261" fill="none" stroke="#111" stroke-width="1.3"/>
<text x="80" y="112" font-size="11.5" font-weight="bold" text-anchor="start" font-family="Liberation Sans, sans-serif" fill="#fff" stroke="#111" stroke-width="2" paint-order="stroke" stroke-linejoin="round">NiFe oxide</text>
<text x="165" y="68.2" font-size="11.5" font-family="Liberation Sans, sans-serif" fill="#fff" stroke="#000" stroke-width="2" paint-order="stroke" stroke-linejoin="round" letter-spacing="0.5">TiO<tspan font-size="8" dy="2.5">2</tspan></text>
<text x="140.5" y="194" font-size="11.2" font-weight="bold" text-anchor="start" font-family="Liberation Sans, sans-serif" fill="#fff" stroke="#111" stroke-width="2" paint-order="stroke" stroke-linejoin="round">TiO<tspan font-size="8" dy="2.5">2</tspan></text>
<text x="82" y="249.3" font-size="11.5" font-weight="bold" text-anchor="start" font-family="Liberation Sans, sans-serif" fill="#fff" stroke="#111" stroke-width="2" paint-order="stroke" stroke-linejoin="round">NiMo alloy</text>
<text x="236.4" y="123.6" font-size="9.2" font-weight="bold" text-anchor="middle" font-family="Liberation Sans, sans-serif" fill="#fff" stroke="#222" stroke-width="1" paint-order="stroke">2 nm</text>
<text x="231.6" y="257" font-size="9" font-weight="bold" text-anchor="middle" font-family="Liberation Sans, sans-serif" fill="#fff" stroke="#333" stroke-width="0.5" paint-order="stroke">2 nm</text>
<rect x="221.4" y="125.2" width="28.8" height="3.4" fill="#000" stroke="#eee" stroke-width="1"/>
<rect x="214.7" y="258.4" width="35.4" height="2.8" fill="#000" stroke="#ddd" stroke-width="0.8"/>
<path d="M143.21,467.20L142.05,318.29 M126.70,474.38L124.00,322.28 M109.39,481.92L104.99,326.49 M91.22,489.83L84.94,330.92 M72.12,498.14L63.77,335.60 M52.03,506.89L41.37,340.56 M146.53,337.52L37.12,364.90 M146.73,375.00L39.99,407.50 M146.94,414.06L42.96,451.59 M147.13,448.93L45.59,490.70 M151.24,467.10L150.80,318.22 M167.80,473.89L168.87,321.89 M185.14,481.01L187.87,325.76 M203.32,488.46L207.87,329.83 M222.39,496.28L228.96,334.12 M242.44,504.50L251.23,338.65 M146.53,337.52L255.70,362.81 M146.73,375.00L253.31,405.26 M146.94,414.06L250.84,449.22 M147.13,448.93L248.64,488.22 M151.24,467.10L50.80,511.33 M143.21,467.20L243.70,508.89 M167.80,473.89L67.19,520.30 M126.70,474.38L227.52,518.25 M185.14,481.01L84.46,529.77 M109.39,481.92L210.45,528.13 M203.32,488.46L102.70,539.77 M91.22,489.83L192.39,538.58 M222.39,496.28L121.99,550.33 M72.12,498.14L173.27,549.64 M242.44,504.50L142.42,561.53 M52.03,506.89L152.98,561.38 M146.42,317.33L35.57,341.84 M146.42,317.33L256.99,339.82 M147.22,465.45L146.42,317.33 M247.61,506.62L256.99,339.82 M147.22,465.45L46.84,509.15 M147.22,465.45L247.61,506.62" stroke="#c8c8c8" stroke-width="0.8" fill="none"/>
<defs>
<linearGradient id="gUp" gradientUnits="userSpaceOnUse" x1="99" y1="372" x2="114.6" y2="427.4"><stop offset="0.000" stop-color="#7aa3cf"/><stop offset="0.029" stop-color="#81a9d5"/><stop offset="0.059" stop-color="#7fa7d2"/><stop offset="0.088" stop-color="#84add7"/><stop offset="0.118" stop-color="#86aed8"/><stop offset="0.147" stop-color="#7da5cf"/><stop offset="0.176" stop-color="#7ea5ce"/><stop offset="0.206" stop-color="#8eb5de"/><stop offset="0.235" stop-color="#85acd4"/><stop offset="0.265" stop-color="#85add4"/><stop offset="0.294" stop-color="#94bbe2"/><stop offset="0.324" stop-color="#8cb3d9"/><stop offset="0.353" stop-color="#94bbe1"/><stop offset="0.382" stop-color="#8fb5db"/><stop offset="0.412" stop-color="#93b9de"/><stop offset="0.441" stop-color="#8cb2d6"/><stop offset="0.471" stop-color="#96bbdf"/><stop offset="0.500" stop-color="#9bc1e4"/><stop offset="0.529" stop-color="#96bcdf"/><stop offset="0.559" stop-color="#9bc0e3"/><stop offset="0.588" stop-color="#9bc0e2"/><stop offset="0.618" stop-color="#92b7d8"/><stop offset="0.647" stop-color="#a0c4e5"/><stop offset="0.676" stop-color="#9ec2e3"/><stop offset="0.706" stop-color="#9abede"/><stop offset="0.735" stop-color="#96bada"/><stop offset="0.765" stop-color="#a7cae9"/><stop offset="0.794" stop-color="#a1c4e3"/><stop offset="0.824" stop-color="#a7cae8"/><stop offset="0.853" stop-color="#abceeb"/><stop offset="0.882" stop-color="#a9cce9"/><stop offset="0.912" stop-color="#aed1ed"/><stop offset="0.941" stop-color="#a6c8e4"/><stop offset="0.971" stop-color="#afd1ec"/><stop offset="1.000" stop-color="#aacce7"/></linearGradient>
<linearGradient id="gLo" gradientUnits="userSpaceOnUse" x1="102.4" y1="452.6" x2="128.8" y2="520.8"><stop offset="0.000" stop-color="#709ed1"/><stop offset="0.029" stop-color="#709ed2"/><stop offset="0.059" stop-color="#709dd1"/><stop offset="0.088" stop-color="#709ed2"/><stop offset="0.118" stop-color="#6c9acf"/><stop offset="0.147" stop-color="#6d9bd0"/><stop offset="0.176" stop-color="#608ec4"/><stop offset="0.206" stop-color="#6592c9"/><stop offset="0.235" stop-color="#6997ce"/><stop offset="0.265" stop-color="#6492c9"/><stop offset="0.294" stop-color="#6694cb"/><stop offset="0.324" stop-color="#5b88c1"/><stop offset="0.353" stop-color="#5e8cc4"/><stop offset="0.382" stop-color="#5a87c0"/><stop offset="0.412" stop-color="#5c8ac3"/><stop offset="0.441" stop-color="#5b89c3"/><stop offset="0.471" stop-color="#5380bb"/><stop offset="0.500" stop-color="#5481bc"/><stop offset="0.529" stop-color="#5381bc"/><stop offset="0.559" stop-color="#5a88c3"/><stop offset="0.588" stop-color="#5784c1"/><stop offset="0.618" stop-color="#4e7bb8"/><stop offset="0.647" stop-color="#5582bf"/><stop offset="0.676" stop-color="#4b78b6"/><stop offset="0.706" stop-color="#507dbb"/><stop offset="0.735" stop-color="#4875b4"/><stop offset="0.765" stop-color="#4572b1"/><stop offset="0.794" stop-color="#4f7cbc"/><stop offset="0.824" stop-color="#4572b2"/><stop offset="0.853" stop-color="#4471b1"/><stop offset="0.882" stop-color="#4c79ba"/><stop offset="0.912" stop-color="#4976b8"/><stop offset="0.941" stop-color="#416eb0"/><stop offset="0.971" stop-color="#4875b7"/><stop offset="1.000" stop-color="#416eb1"/></linearGradient>
<linearGradient id="gCb" x1="0" y1="0" x2="0" y2="1">
<stop offset="0" stop-color="#93bfdf"/><stop offset="0.5" stop-color="#6c98c8"/><stop offset="1" stop-color="#4a77b3"/></linearGradient>
<linearGradient id="gBlue" x1="0" y1="0" x2="0" y2="1">
<stop offset="0" stop-color="#9bb9d9"/><stop offset="0.1" stop-color="#b4cbe3"/><stop offset="0.216" stop-color="#cfdeef"/><stop offset="0.33" stop-color="#e2ecf6"/><stop offset="0.445" stop-color="#eef4fa"/><stop offset="0.56" stop-color="#f5f8fc"/><stop offset="0.8" stop-color="#fafcfe"/><stop offset="1" stop-color="#fcfdfe"/></linearGradient>
<linearGradient id="gYel" x1="0" y1="0" x2="0" y2="1">
<stop offset="0" stop-color="#fde7a5"/><stop offset="0.1" stop-color="#fdeec3"/><stop offset="0.216" stop-color="#fef3d6"/><stop offset="0.33" stop-color="#fef8e8"/><stop offset="0.445" stop-color="#fffaef"/><stop offset="0.56" stop-color="#fffbf3"/><stop offset="0.9" stop-color="#fffcf6"/><stop offset="1" stop-color="#fffdf8"/></linearGradient>
</defs>
<polygon points="52,385.5 146,359 241,384 146.4,418.5" fill="url(#gUp)" fill-opacity="0.92"/>
<polygon points="57.4,470 147.4,435.2 237.4,468.9 147.5,513.5" fill="url(#gLo)" fill-opacity="0.94"/>
<path d="M35.20,342.00L46.70,509.00 M46.84,509.15L147.72,564.43 M147.72,564.43L247.61,506.62 M34.12,364.90H37.12 M36.99,407.50H39.99 M39.96,451.59H42.96 M42.59,490.70H45.59 M50.80,511.33L45.53,513.64 M243.70,508.89L248.94,511.06 M67.19,520.30L61.89,522.75 M227.52,518.25L232.81,520.54 M84.46,529.77L79.14,532.35 M210.45,528.13L215.76,530.56 M102.70,539.77L97.37,542.49 M192.39,538.58L197.73,541.15 M121.99,550.33L116.65,553.21 M173.27,549.64L178.63,552.37 M142.42,561.53L137.07,564.58 M152.98,561.38L158.36,564.29" stroke="#333" stroke-width="1" fill="none"/>
<path d="M38.5,433.5L44.5,427.5M38.5,436L44.5,430" stroke="#333" stroke-width="0.9" fill="none"/>
<text transform="matrix(0.8889,-0.1408,0,1,32.40,368.20)" x="0" y="0" font-size="11.2" text-anchor="end" font-family="Liberation Sans, sans-serif" font-weight="bold" fill="#111">130</text>
<text transform="matrix(0.8889,-0.1408,0,1,37.40,412.80)" x="0" y="0" font-size="11.2" text-anchor="end" font-family="Liberation Sans, sans-serif" font-weight="bold" fill="#111">120</text>
<text transform="matrix(0.8889,-0.1408,0,1,37.50,435.60)" x="0" y="0" font-size="11.2" text-anchor="end" font-family="Liberation Sans, sans-serif" font-weight="bold" fill="#111">0</text>
<text transform="matrix(0.8889,-0.1408,0,1,40.30,457.60)" x="0" y="0" font-size="11.2" text-anchor="end" font-family="Liberation Sans, sans-serif" font-weight="bold" fill="#111">-120</text>
<text transform="matrix(0.8889,-0.1408,0,1,44.20,496.20)" x="0" y="0" font-size="11.2" text-anchor="end" font-family="Liberation Sans, sans-serif" font-weight="bold" fill="#111">-130</text>
<text transform="translate(15.9,436) rotate(-94)" font-size="11.6" text-anchor="middle" font-family="Liberation Sans, sans-serif" font-weight="bold" fill="#111">Distance from AEM (µm)</text>
<text transform="matrix(0.9117,-0.4108,0.7026,0.3825,46.10,514.20)" x="0" y="3.94" font-size="11" text-anchor="middle" font-family="Liberation Sans, sans-serif" font-weight="bold" fill="#111">0</text>
<text transform="matrix(0.9117,-0.4108,0.7026,0.3825,59.40,524.30)" x="0" y="3.94" font-size="11" text-anchor="middle" font-family="Liberation Sans, sans-serif" font-weight="bold" fill="#111">20</text>
<text transform="matrix(0.9117,-0.4108,0.7026,0.3825,76.50,534.00)" x="0" y="3.94" font-size="11" text-anchor="middle" font-family="Liberation Sans, sans-serif" font-weight="bold" fill="#111">40</text>
<text transform="matrix(0.9117,-0.4108,0.7026,0.3825,94.50,544.00)" x="0" y="3.94" font-size="11" text-anchor="middle" font-family="Liberation Sans, sans-serif" font-weight="bold" fill="#111">60</text>
<text transform="matrix(0.9117,-0.4108,0.7026,0.3825,113.50,554.00)" x="0" y="3.94" font-size="11" text-anchor="middle" font-family="Liberation Sans, sans-serif" font-weight="bold" fill="#111">80</text>
<text transform="matrix(0.9117,-0.4108,0.7026,0.3825,131.30,567.00)" x="0" y="3.94" font-size="11" text-anchor="middle" font-family="Liberation Sans, sans-serif" font-weight="bold" fill="#111">100</text>
<text transform="matrix(0.9117,0.4108,-0.6942,0.3975,249.90,512.40)" x="0" y="3.94" font-size="11" text-anchor="middle" font-family="Liberation Sans, sans-serif" font-weight="bold" fill="#111">0</text>
<text transform="matrix(0.9117,0.4108,-0.6942,0.3975,236.70,524.20)" x="0" y="3.94" font-size="11" text-anchor="middle" font-family="Liberation Sans, sans-serif" font-weight="bold" fill="#111">20</text>
<text transform="matrix(0.9117,0.4108,-0.6942,0.3975,220.00,533.80)" x="0" y="3.94" font-size="11" text-anchor="middle" font-family="Liberation Sans, sans-serif" font-weight="bold" fill="#111">40</text>
<text transform="matrix(0.9117,0.4108,-0.6942,0.3975,201.70,544.30)" x="0" y="3.94" font-size="11" text-anchor="middle" font-family="Liberation Sans, sans-serif" font-weight="bold" fill="#111">60</text>
<text transform="matrix(0.9117,0.4108,-0.6942,0.3975,181.50,554.80)" x="0" y="3.94" font-size="11" text-anchor="middle" font-family="Liberation Sans, sans-serif" font-weight="bold" fill="#111">80</text>
<text transform="matrix(0.9117,0.4108,-0.6942,0.3975,165.80,567.00)" x="0" y="3.94" font-size="11" text-anchor="middle" font-family="Liberation Sans, sans-serif" font-weight="bold" fill="#111">100</text>
<text transform="matrix(0.8783,0.4782,-0.6942,0.3975,73.60,548.40)" x="0" y="3.40" font-size="9.5" text-anchor="middle" font-family="Liberation Sans, sans-serif" font-weight="bold" fill="#111">X (µm)</text>
<text transform="matrix(0.8678,-0.4969,0.7026,0.3825,227.00,545.20)" x="0" y="3.40" font-size="9.5" text-anchor="middle" font-family="Liberation Sans, sans-serif" font-weight="bold" fill="#111">Y (µm)</text>
<text x="262.3" y="328.1" font-size="11.5" text-anchor="middle" font-family="Liberation Sans, sans-serif" font-weight="bold" fill="#e24c46">Local pH</text>
<text x="270.8" y="351.1" font-size="11" text-anchor="middle" font-family="Liberation Sans, sans-serif" font-weight="bold" fill="#111">13.8</text>
<text x="270.8" y="497.6" font-size="11" text-anchor="middle" font-family="Liberation Sans, sans-serif" font-weight="bold" fill="#111">13.9</text>
<rect x="265.4" y="359" width="10.5" height="122" fill="url(#gCb)"/>
<rect x="347.6" y="317.7" width="71.60" height="218.50000000000006" fill="url(#gBlue)"/>
<rect x="419.20" y="317.7" width="71.10" height="218.50000000000006" fill="url(#gYel)"/>
<path d="M361.82,337.39 C363.24,337.73 387.42,343.02 390.26,344.23 C393.10,345.43 415.86,358.45 418.70,361.46 C421.54,364.47 444.30,396.47 447.14,404.40 C449.98,412.33 474.16,514.30 475.58,520.09" fill="none" stroke="#6a6a6a" stroke-width="1.6" stroke-dasharray="2,3.6"/>
<path d="M390.26,339.23V349.23M388.36,339.23h3.8M388.36,349.23h3.8" stroke="#c8c8c8" stroke-width="1.1" fill="none"/>
<path d="M418.70,356.46V366.46M416.80,356.46h3.8M416.80,366.46h3.8" stroke="#c8c8c8" stroke-width="1.1" fill="none"/>
<path d="M447.14,399.40V409.40M445.24,399.40h3.8M445.24,409.40h3.8" stroke="#c8c8c8" stroke-width="1.1" fill="none"/>
<path d="M475.58,515.09V525.09M473.68,515.09h3.8M473.68,525.09h3.8" stroke="#c8c8c8" stroke-width="1.1" fill="none"/>
<rect x="357.42" y="332.99" width="8.8" height="8.8" fill="#db2216"/>
<path d="M361.82,334.09V340.69M359.92,334.09h3.8M359.92,340.69h3.8" stroke="#eeeeee" stroke-width="1.1" fill="none"/>
<rect x="385.86" y="339.83" width="8.8" height="8.8" fill="#db2216"/>
<rect x="414.30" y="357.06" width="8.8" height="8.8" fill="#db2216"/>
<rect x="442.74" y="400.00" width="8.8" height="8.8" fill="#db2216"/>
<rect x="471.18" y="515.69" width="8.8" height="8.8" fill="#db2216"/>
<path d="M347.6,317.7H490.3V536.2" fill="none" stroke="#444" stroke-width="0.9"/>
<path d="M347.6,317.7V536.2H490.3" fill="none" stroke="#222" stroke-width="1.2"/>
<path d="M345.40,522.55H347.6 M343.40,495.20H347.6 M345.40,467.85H347.6 M343.40,440.50H347.6 M345.40,413.15H347.6 M343.40,385.80H347.6 M345.40,358.45H347.6 M343.40,331.10H347.6 M347.60,532.60V539.80 M368.93,534.20V538.20 M390.26,532.60V539.80 M411.59,534.20V538.20 M432.92,532.60V539.80 M454.25,534.20V538.20 M475.58,532.60V539.80" stroke="#222" stroke-width="1.1" fill="none"/>
<text x="341.10" y="499.20" font-size="11" text-anchor="end" font-family="Liberation Sans, sans-serif" font-weight="bold" fill="#111">8</text>
<text x="341.10" y="444.50" font-size="11" text-anchor="end" font-family="Liberation Sans, sans-serif" font-weight="bold" fill="#111">10</text>
<text x="341.10" y="389.80" font-size="11" text-anchor="end" font-family="Liberation Sans, sans-serif" font-weight="bold" fill="#111">12</text>
<text x="341.10" y="335.10" font-size="11" text-anchor="end" font-family="Liberation Sans, sans-serif" font-weight="bold" fill="#111">14</text>
<text x="347.60" y="552.6" font-size="11" text-anchor="middle" font-family="Liberation Sans, sans-serif" font-weight="bold" fill="#111">0</text>
<text x="390.26" y="552.6" font-size="11" text-anchor="middle" font-family="Liberation Sans, sans-serif" font-weight="bold" fill="#111">3</text>
<text x="432.92" y="552.6" font-size="11" text-anchor="middle" font-family="Liberation Sans, sans-serif" font-weight="bold" fill="#111">6</text>
<text x="475.58" y="552.6" font-size="11" text-anchor="middle" font-family="Liberation Sans, sans-serif" font-weight="bold" fill="#111">9</text>
<rect x="537.6" y="317.7" width="72.45" height="218.50000000000006" fill="url(#gBlue)"/>
<rect x="610.05" y="317.7" width="71.25" height="218.50000000000006" fill="url(#gYel)"/>
<path d="M551.99,333.29 C553.43,333.70 577.89,340.32 580.77,341.49 C583.65,342.67 606.67,353.77 609.55,356.81 C612.43,359.84 635.45,394.29 638.33,402.21 C641.21,410.13 665.67,509.52 667.11,515.17" fill="none" stroke="#6a6a6a" stroke-width="1.6" stroke-dasharray="2,3.6"/>
<path d="M580.77,336.49V346.49M578.87,336.49h3.8M578.87,346.49h3.8" stroke="#c8c8c8" stroke-width="1.1" fill="none"/>
<path d="M609.55,351.81V361.81M607.65,351.81h3.8M607.65,361.81h3.8" stroke="#c8c8c8" stroke-width="1.1" fill="none"/>
<path d="M638.33,397.01V407.41M636.43,397.01h3.8M636.43,407.41h3.8" stroke="#c8c8c8" stroke-width="1.1" fill="none"/>
<path d="M667.11,509.97V520.37M665.21,509.97h3.8M665.21,520.37h3.8" stroke="#c8c8c8" stroke-width="1.1" fill="none"/>
<rect x="548.09" y="329.39" width="7.8" height="7.8" fill="#fff" stroke="#db2216" stroke-width="2.2"/>
<path d="M551.99,330.29V336.29M550.09,330.29h3.8M550.09,336.29h3.8" stroke="#c0c0c0" stroke-width="1.1" fill="none"/>
<rect x="576.87" y="337.59" width="7.8" height="7.8" fill="#fff" stroke="#db2216" stroke-width="2.2"/>
<rect x="605.65" y="352.91" width="7.8" height="7.8" fill="#fff" stroke="#db2216" stroke-width="2.2"/>
<rect x="634.43" y="398.31" width="7.8" height="7.8" fill="#fff" stroke="#db2216" stroke-width="2.2"/>
<rect x="663.21" y="511.27" width="7.8" height="7.8" fill="#fff" stroke="#db2216" stroke-width="2.2"/>
<path d="M537.6,317.7H681.3V536.2" fill="none" stroke="#444" stroke-width="0.9"/>
<path d="M537.6,317.7V536.2H681.3" fill="none" stroke="#222" stroke-width="1.2"/>
<path d="M535.40,522.55H537.6 M533.40,495.20H537.6 M535.40,467.85H537.6 M533.40,440.50H537.6 M535.40,413.15H537.6 M533.40,385.80H537.6 M535.40,358.45H537.6 M533.40,331.10H537.6 M537.60,532.60V539.80 M559.19,534.20V538.20 M580.77,532.60V539.80 M602.36,534.20V538.20 M623.94,532.60V539.80 M645.53,534.20V538.20 M667.11,532.60V539.80" stroke="#222" stroke-width="1.1" fill="none"/>
<text x="531.10" y="499.20" font-size="11" text-anchor="end" font-family="Liberation Sans, sans-serif" font-weight="bold" fill="#111">8</text>
<text x="531.10" y="444.50" font-size="11" text-anchor="end" font-family="Liberation Sans, sans-serif" font-weight="bold" fill="#111">10</text>
<text x="531.10" y="389.80" font-size="11" text-anchor="end" font-family="Liberation Sans, sans-serif" font-weight="bold" fill="#111">12</text>
<text x="531.10" y="335.10" font-size="11" text-anchor="end" font-family="Liberation Sans, sans-serif" font-weight="bold" fill="#111">14</text>
<text x="537.60" y="552.6" font-size="11" text-anchor="middle" font-family="Liberation Sans, sans-serif" font-weight="bold" fill="#111">0</text>
<text x="580.77" y="552.6" font-size="11" text-anchor="middle" font-family="Liberation Sans, sans-serif" font-weight="bold" fill="#111">3</text>
<text x="623.94" y="552.6" font-size="11" text-anchor="middle" font-family="Liberation Sans, sans-serif" font-weight="bold" fill="#111">6</text>
<text x="667.11" y="552.6" font-size="11" text-anchor="middle" font-family="Liberation Sans, sans-serif" font-weight="bold" fill="#111">9</text>
<text transform="translate(321.6,426.7) rotate(-90)" font-size="11.2" text-anchor="middle" font-family="Liberation Sans, sans-serif" font-weight="bold" fill="#111">Local pH<tspan font-size="8" dy="3">anode</tspan></text>
<text transform="translate(511.4,426.5) rotate(-90)" font-size="11.2" text-anchor="middle" font-family="Liberation Sans, sans-serif" font-weight="bold" fill="#111">Local pH<tspan font-size="8" dy="3">cathode</tspan></text>
<text x="349.2" y="568.3" font-size="11.1" font-family="Liberation Sans, sans-serif" font-weight="bold" fill="#111">Distance from pH ultramicroelectrode tip to catalyst layer (µm)</text>
</svg>
</body></html>
